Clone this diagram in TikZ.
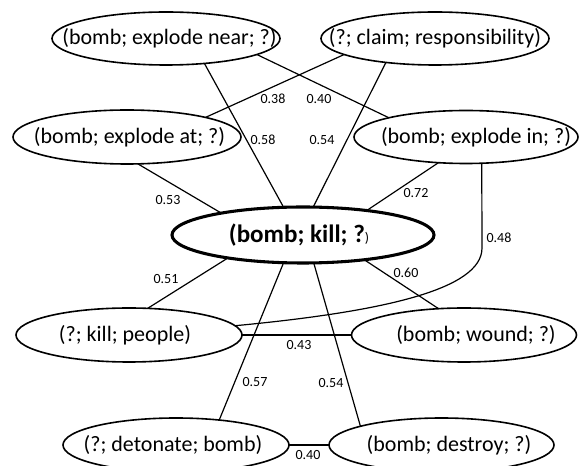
\documentclass[tikz,border=0pt]{standalone}
\usepackage{fontspec}
\setmainfont{Carlito}
\usetikzlibrary{shapes.geometric}
\begin{document}
\begin{tikzpicture}[x=0.75pt,y=-0.75pt,
  ell/.style n args={2}{ellipse,draw,line width=1.2pt,inner sep=0pt,outer sep=0pt,minimum width=#1,minimum height=#2},
  txt/.style={font=\fontsize{16.5}{18}\selectfont,inner sep=0pt},
  wt/.style={font=\fontsize{10.5}{12}\selectfont,inner sep=0pt},
  conn/.style={line width=0.9pt}]
\useasboundingbox (0,0) rectangle (579,466);
\clip (0,0) rectangle (579,466);

% ellipses
\node[ell={171pt}{39.75pt},label={[txt,name=nearT,xshift=2.6pt]center:{(bomb; explode near; ?)}}] (nearE) at (166,38.5) {};
\node[ell={171pt}{39.75pt},label={[txt,name=claimT]center:{(?; claim; responsibility)}}] (claim) at (435,38.5) {};
\node[ell={171pt}{40.5pt},label={[txt,name=atT,xshift=1.9pt]center:{(bomb; explode at; ?)}}] (atE) at (127,137) {};
\node[ell={168pt}{39.75pt},label={[txt,name=inT,xshift=7.5pt]center:{(bomb; explode in; ?)}}] (inE) at (466,137) {};
\node[ell={196.5pt}{42pt},line width=2.3pt,label={[inner sep=0pt,name=killT,xshift=-3pt]center:{\fontsize{18.8}{20}\selectfont\bfseries (bomb; kill; ?\fontsize{10.5}{11}\selectfont\mdseries )}}] (kill) at (303,235) {};
\node[ell={169.5pt}{40.5pt},label={[txt,name=peopleT,xshift=-3pt]center:{(?; kill; people)}}] (people) at (129,335) {};
\node[ell={168.75pt}{40.5pt},label={[txt,name=woundT,xshift=9pt]center:{(bomb; wound; ?)}}] (wound) at (464,335) {};
\node[ell={169.5pt}{40.5pt},label={[txt,name=detonT,xshift=-2.25pt]center:{(?; detonate; bomb)}}] (deton) at (176,445) {};
\node[ell={168.75pt}{40.5pt},label={[txt,name=destroyT,xshift=5.6pt]center:{(bomb; destroy; ?)}}] (destroy) at (441.5,445) {};

% connectors
\draw[conn] (nearE.-33) -- (kill.125);
\draw[conn] (claim.206) -- (kill.70);
\draw[conn] (nearE.-10) -- (inE.166);
\draw[conn] (claim.190) -- (atE.14);
\draw[conn] (atE.-68) -- (kill.165);
\draw[conn] (inE.223) -- (kill.21);
\draw[conn] (inE.-59) -- (482,248) .. controls (482,290) and (380,312) .. (people.5);
\draw[conn] (kill.197) -- (people.55);
\draw[conn] (kill.-22) -- (wound.134);
\draw[conn] (kill.235) -- (deton.30);
\draw[conn] (kill.-69) -- (destroy.167);
\draw[conn] (people.east) -- (wound.west);
\draw[conn] (deton.east) -- (destroy.west);

% weights
\node[wt] (w1) at (273,99) {0.38};
\node[wt] (w2) at (319,99) {0.40};
\node[wt] (w3) at (263,140) {0.58};
\node[wt] (w4) at (322,140) {0.54};
\node[wt] (w5) at (168,200) {0.53};
\node[wt] (w6) at (416,193) {0.72};
\node[wt] (w7) at (499,238) {0.48};
\node[wt] (w8) at (166,279) {0.51};
\node[wt] (w9) at (406,273) {0.60};
\node[wt] (w10) at (299,345) {0.43};
\node[wt] (w11) at (255,382) {0.57};
\node[wt] (w12) at (331,383) {0.54};
\node[wt] (w13) at (308,455) {0.40};
\end{tikzpicture}
\end{document}
